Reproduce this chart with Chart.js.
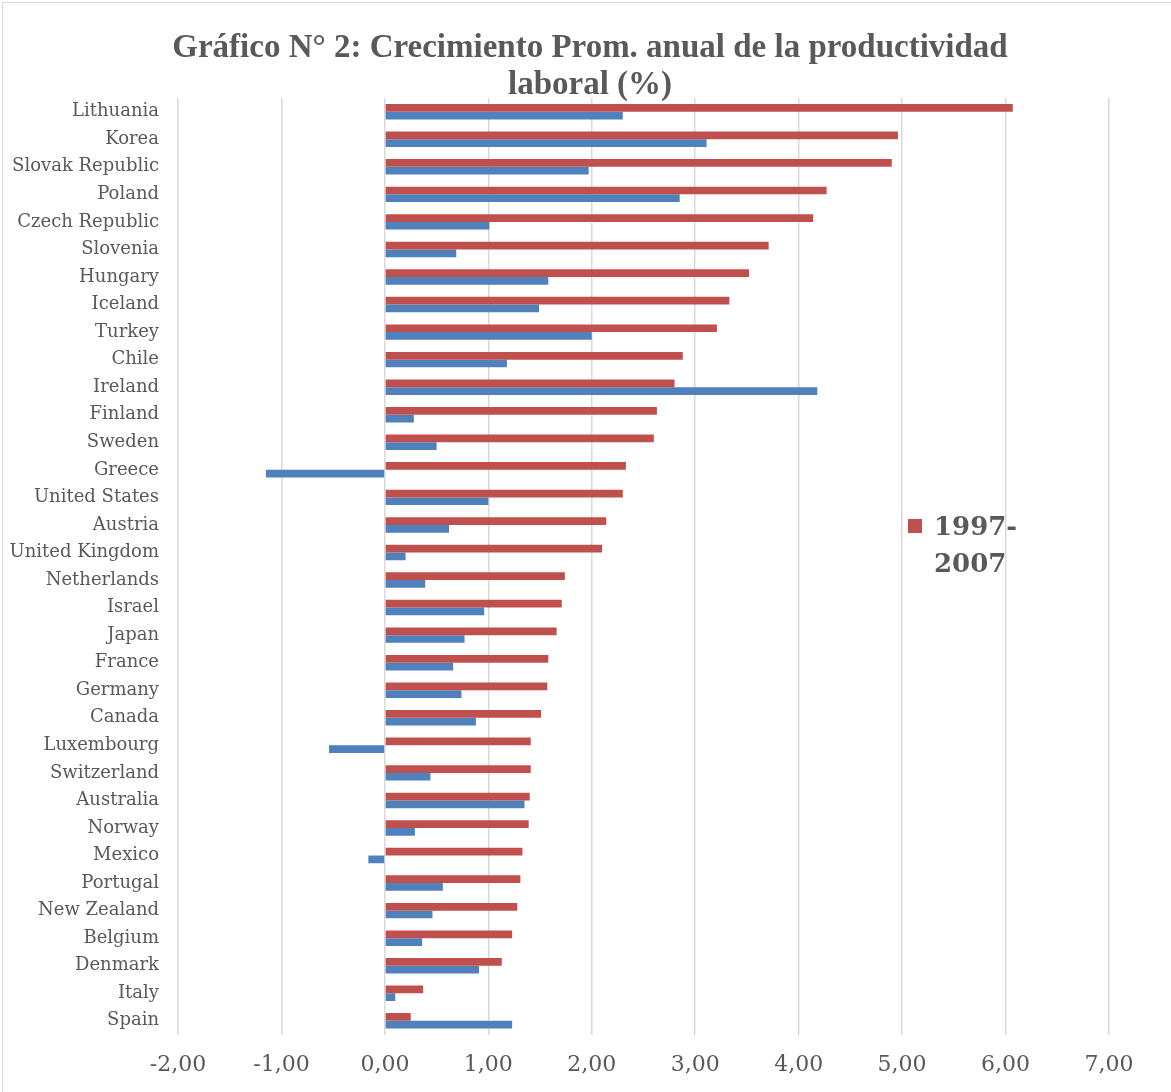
<!DOCTYPE html>
<html>
<head>
<meta charset="utf-8">
<script src="https://cdn.jsdelivr.net/npm/chart.js@4/dist/chart.umd.min.js"></script>
<style>
  html, body { margin: 0; padding: 0; background: #fff; overflow: hidden; }
  #wrap { position: relative; width: 1171px; height: 1092px; }
  #frame { position: absolute; left: 2px; top: 2px; width: 1200px; height: 1200px; border: 1px solid #d9d9d9; pointer-events: none; }
</style>
</head>
<body>
<div id="wrap">
  <canvas id="chart"></canvas>
  <div id="frame"></div>
</div>
<script>
// Data
const countries = ['Lithuania', 'Korea', 'Slovak Republic', 'Poland', 'Czech Republic', 'Slovenia',
  'Hungary', 'Iceland', 'Turkey', 'Chile', 'Ireland', 'Finland', 'Sweden', 'Greece', 'United States',
  'Austria', 'United Kingdom', 'Netherlands', 'Israel', 'Japan', 'France', 'Germany', 'Canada',
  'Luxembourg', 'Switzerland', 'Australia', 'Norway', 'Mexico', 'Portugal', 'New Zealand', 'Belgium',
  'Denmark', 'Italy', 'Spain'];

// 1997-2007 (red)
const growth9707 = [6.07, 4.96, 4.90, 4.27, 4.14, 3.71, 3.52, 3.33, 3.21, 2.88, 2.80, 2.63, 2.60, 2.33,
  2.30, 2.14, 2.10, 1.74, 1.71, 1.66, 1.58, 1.57, 1.51, 1.41, 1.41, 1.40, 1.39, 1.33, 1.31, 1.28, 1.23,
  1.13, 0.37, 0.25];

// second series (blue, not named in the legend)
const growthOther = [2.30, 3.11, 1.97, 2.85, 1.01, 0.69, 1.58, 1.49, 2.00, 1.18, 4.18, 0.28, 0.50, -1.15,
  1.00, 0.62, 0.20, 0.39, 0.96, 0.77, 0.66, 0.74, 0.88, -0.54, 0.44, 1.35, 0.29, -0.16, 0.56, 0.46, 0.36,
  0.91, 0.10, 1.23];

const xMin = -2;
const xMax = 7;
const titleLines = ['Gráfico N° 2: Crecimiento Prom. anual de la productividad', 'laboral (%)'];
const legendLabel = '1997-2007';

const textColor = '#595959';
const red = '#C0504D';
const blue = '#4F81BD';

// Excel-like legend drawn on top of the plot area
const legendPlugin = {
  id: 'sideLegend',
  afterLayout(chart) {
    // title in the reference is centred a bit to the right of the canvas box
    chart.titleBlock.left += 63;
  },
  afterDraw(chart) {
    const ctx = chart.ctx;
    const area = chart.chartArea;
    const x = area.right - 201;
    const y = 519;
    ctx.save();
    ctx.fillStyle = red;
    ctx.fillRect(x, y, 14, 14);
    ctx.fillStyle = textColor;
    ctx.font = 'bold 26px "DejaVu Serif"';
    ctx.textBaseline = 'middle';
    ctx.textAlign = 'left';
    ctx.fillText(legendLabel.slice(0, 5), x + 26, y + 9);
    ctx.fillText(legendLabel.slice(5), x + 26, y + 46);
    ctx.restore();
  }
};

const ctx = document.getElementById('chart').getContext('2d');
new Chart(ctx, {
  type: 'bar',
  data: {
    labels: countries,
    datasets: [
      { label: legendLabel, data: growth9707, backgroundColor: red, borderWidth: 0 },
      { label: '', data: growthOther, backgroundColor: blue, borderWidth: 0 }
    ]
  },
  options: {
    indexAxis: 'y',
    responsive: true,
    maintainAspectRatio: false,
    animation: false,
    datasets: {
      bar: { categoryPercentage: 0.56, barPercentage: 1.0 }
    },
    layout: { padding: { left: 8, right: 62, top: 0, bottom: -3 } },
    plugins: {
      legend: { display: false },
      tooltip: { enabled: false },
      title: {
        display: true,
        text: titleLines,
        color: textColor,
        font: { family: '"Liberation Serif"', size: 33, weight: 'bold', lineHeight: 1.12 },
        padding: { top: 30, bottom: -6 }
      }
    },
    scales: {
      x: {
        min: xMin,
        max: xMax,
        grid: { color: '#d9d9d9', lineWidth: 1.5, drawTicks: false },
        border: { display: false },
        ticks: {
          stepSize: 1,
          color: textColor,
          padding: 17,
          font: { family: '"DejaVu Serif"', size: 22 },
          callback: v => v.toFixed(2).replace('.', ',')
        }
      },
      y: {
        afterFit: s => { s.width = 170; },
        grid: { display: false, drawTicks: false },
        border: { display: false },
        ticks: {
          autoSkip: false,
          color: textColor,
          padding: 19,
          font: { family: '"DejaVu Serif"', size: 18 }
        }
      }
    }
  },
  plugins: [legendPlugin]
});
</script>
</body>
</html>
